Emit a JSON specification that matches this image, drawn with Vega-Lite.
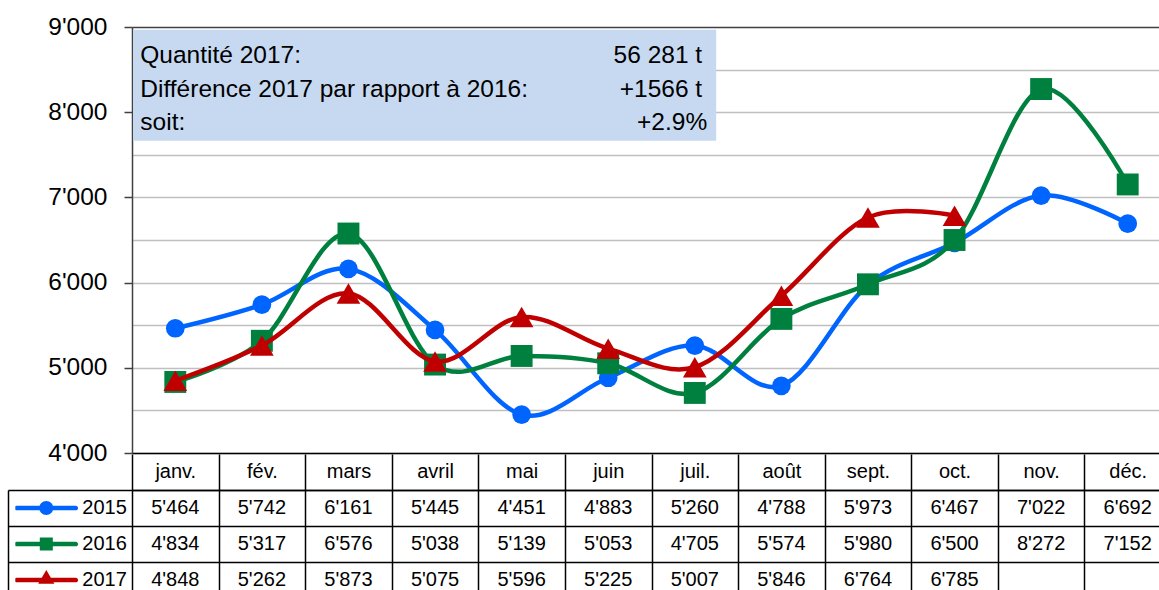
{
  "$schema": "https://vega.github.io/schema/vega-lite/v6.json",
  "padding": {"left": 7, "top": 14, "right": 0, "bottom": 0},
  "background": "white",
  "bounds": "flush",
  "spacing": 37,
  "config": {
    "view": {"stroke": null},
    "locale": {"number": {"decimal": ".", "thousands": "'", "grouping": [3], "currency": ["", ""]}},
    "font": "Liberation Sans",
    "axis": {"labelFont": "Liberation Sans", "labelColor": "#000000"},
    "legend": {"labelFont": "Liberation Sans"},
    "text": {"font": "Liberation Sans"}
  },
  "datasets": {
    "sales": [
      {"month": "janv.", "m": 1, "year": "2015", "value": 5464},
      {"month": "fév.", "m": 2, "year": "2015", "value": 5742},
      {"month": "mars", "m": 3, "year": "2015", "value": 6161},
      {"month": "avril", "m": 4, "year": "2015", "value": 5445},
      {"month": "mai", "m": 5, "year": "2015", "value": 4451},
      {"month": "juin", "m": 6, "year": "2015", "value": 4883},
      {"month": "juil.", "m": 7, "year": "2015", "value": 5260},
      {"month": "août", "m": 8, "year": "2015", "value": 4788},
      {"month": "sept.", "m": 9, "year": "2015", "value": 5973},
      {"month": "oct.", "m": 10, "year": "2015", "value": 6467},
      {"month": "nov.", "m": 11, "year": "2015", "value": 7022},
      {"month": "déc.", "m": 12, "year": "2015", "value": 6692},
      {"month": "janv.", "m": 1, "year": "2016", "value": 4834},
      {"month": "fév.", "m": 2, "year": "2016", "value": 5317},
      {"month": "mars", "m": 3, "year": "2016", "value": 6576},
      {"month": "avril", "m": 4, "year": "2016", "value": 5038},
      {"month": "mai", "m": 5, "year": "2016", "value": 5139},
      {"month": "juin", "m": 6, "year": "2016", "value": 5053},
      {"month": "juil.", "m": 7, "year": "2016", "value": 4705},
      {"month": "août", "m": 8, "year": "2016", "value": 5574},
      {"month": "sept.", "m": 9, "year": "2016", "value": 5980},
      {"month": "oct.", "m": 10, "year": "2016", "value": 6500},
      {"month": "nov.", "m": 11, "year": "2016", "value": 8272},
      {"month": "déc.", "m": 12, "year": "2016", "value": 7152},
      {"month": "janv.", "m": 1, "year": "2017", "value": 4848},
      {"month": "fév.", "m": 2, "year": "2017", "value": 5262},
      {"month": "mars", "m": 3, "year": "2017", "value": 5873},
      {"month": "avril", "m": 4, "year": "2017", "value": 5075},
      {"month": "mai", "m": 5, "year": "2017", "value": 5596},
      {"month": "juin", "m": 6, "year": "2017", "value": 5225},
      {"month": "juil.", "m": 7, "year": "2017", "value": 5007},
      {"month": "août", "m": 8, "year": "2017", "value": 5846},
      {"month": "sept.", "m": 9, "year": "2017", "value": 6764},
      {"month": "oct.", "m": 10, "year": "2017", "value": 6785}
    ],
    "note": [
      {"label": "Quantité 2017:", "value": "56 281 t", "lx": 0.596, "rx": 7.085, "y": 8657},
      {"label": "Différence 2017 par rapport à 2016:", "value": "+1566 t", "lx": 0.596, "rx": 7.085, "y": 8256},
      {"label": "soit:", "value": "+2.9%", "lx": 0.596, "rx": 7.143, "y": 7869}
    ]
  },
  "resolve": {"scale": {"x": "independent", "y": "independent", "color": "independent", "shape": "independent"}},
  "vconcat": [
    {
      "width": 1039,
      "height": 426,
      "data": {"name": "sales"},
      "layer": [
        {
          "data": {"values": [{}]},
          "mark": {"type": "rect", "color": "#C6D9F1"},
          "encoding": {
            "x": {
              "datum": 0.5115, "type": "quantitative",
              "scale": {"domain": [0.5, 12.5], "nice": false, "zero": false},
              "axis": {"orient": "bottom", "title": null, "labels": false, "ticks": false, "grid": false, "domain": true, "domainColor": "#000000", "domainWidth": 1.5}
            },
            "x2": {"datum": 7.247},
            "y": {
              "datum": 8969, "type": "quantitative",
              "scale": {"domain": [4000, 9000], "nice": false, "zero": false},
              "axis": {
                "title": null,
                "values": [4000, 4500, 5000, 5500, 6000, 6500, 7000, 7500, 8000, 8500, 9000],
                "format": ",d",
                "labelExpr": "datum.value % 1000 === 0 ? datum.label : ''",
                "labelFontSize": 24.5,
                "labelPadding": 17,
                "tickSize": 8,
                "tickWidth": 1.5,
                "tickColor": {"condition": {"test": "datum.value % 1000 !== 0", "value": "transparent"}, "value": "#404040"},
                "domainColor": "#404040",
                "domainWidth": 1.5,
                "grid": true,
                "gridWidth": 1.5,
                "gridColor": {"condition": {"test": "datum.value === 9000", "value": "#404040"}, "value": "#C0C0C0"}
              }
            },
            "y2": {"datum": 7664}
          }
        },
        {
          "data": {"name": "note"},
          "mark": {"type": "text", "align": "left", "baseline": "middle", "fontSize": 24.5, "color": "#000000"},
          "encoding": {
            "x": {"field": "lx", "type": "quantitative"},
            "y": {"field": "y", "type": "quantitative"},
            "text": {"field": "label"}
          }
        },
        {
          "data": {"name": "note"},
          "mark": {"type": "text", "align": "right", "baseline": "middle", "fontSize": 24.5, "color": "#000000"},
          "encoding": {
            "x": {"field": "rx", "type": "quantitative"},
            "y": {"field": "y", "type": "quantitative"},
            "text": {"field": "value"}
          }
        },
        {
          "transform": [{"filter": "datum.year === '2015'"}],
          "mark": {"type": "line", "color": "#0064FF", "strokeWidth": 4.5, "strokeCap": "round", "strokeJoin": "round", "interpolate": "cardinal",
                   "point": {"filled": true, "shape": "circle", "size": 350, "color": "#0064FF", "opacity": 1}},
          "encoding": {
            "x": {"field": "m", "type": "quantitative"},
            "y": {"field": "value", "type": "quantitative"}
          }
        },
        {
          "transform": [{"filter": "datum.year === '2016'"}],
          "mark": {"type": "line", "color": "#00803E", "strokeWidth": 4.5, "strokeCap": "round", "strokeJoin": "round", "interpolate": "cardinal",
                   "point": {"filled": true, "shape": "square", "size": 480, "color": "#00803E", "opacity": 1}},
          "encoding": {
            "x": {"field": "m", "type": "quantitative"},
            "y": {"field": "value", "type": "quantitative"}
          }
        },
        {
          "transform": [{"filter": "datum.year === '2017'"}],
          "mark": {"type": "line", "color": "#C00000", "strokeWidth": 4.5, "strokeCap": "round", "strokeJoin": "round", "interpolate": "cardinal",
                   "point": {"filled": true, "shape": "triangle-up", "size": 560, "color": "#C00000", "opacity": 1}},
          "encoding": {
            "x": {"field": "m", "type": "quantitative"},
            "y": {"field": "value", "type": "quantitative"}
          }
        }
      ]
    },
    {
      "width": 1039,
      "height": 108,
      "data": {"name": "sales"},
      "layer": [
        {
          "mark": {"type": "text", "fontSize": 20, "color": "#000000"},
          "encoding": {
            "x": {
              "field": "month", "type": "nominal",
              "sort": ["janv.", "fév.", "mars", "avril", "mai", "juin", "juil.", "août", "sept.", "oct.", "nov.", "déc."],
              "scale": {"type": "band", "paddingInner": 0, "paddingOuter": 0},
              "axis": {
                "orient": "top", "title": null, "labelAngle": 0, "labelFontSize": 20, "labelBaseline": "middle",
                "labelPadding": -17, "tickBand": "extent", "ticks": true, "tickSize": 36, "tickColor": "#000000", "tickWidth": 1.5,
                "grid": true, "gridColor": "#000000", "gridWidth": 1.5, "domain": true, "domainColor": "#000000", "domainWidth": 1.5
              }
            },
            "y": {
              "field": "year", "type": "nominal",
              "scale": {"type": "band", "paddingInner": 0, "paddingOuter": 0},
              "axis": {
                "orient": "left", "title": null, "offset": 124, "labels": false, "tickBand": "extent", "ticks": true,
                "tickSize": -124, "tickColor": "#000000", "tickWidth": 1.5, "grid": true, "gridColor": "#000000", "gridWidth": 1.5,
                "domain": true, "domainColor": "#000000", "domainWidth": 1.5
              }
            },
            "text": {"field": "value", "type": "quantitative", "format": ",d"}
          }
        },
        {
          "mark": {"type": "point", "filled": true, "opacity": 0},
          "encoding": {
            "y": {"field": "year", "type": "nominal"},
            "color": {
              "field": "year", "type": "nominal",
              "scale": {"domain": ["2015", "2016", "2017"], "range": ["#0064FF", "#00803E", "#C00000"]},
              "legend": {"orient": "none", "legendX": -116.7, "legendY": 0, "title": null, "padding": 0, "rowPadding": 0, "clipHeight": 36,
                         "symbolSize": 3844, "symbolStrokeWidth": 0, "symbolOpacity": 1, "labelFontSize": 20, "labelColor": "#000000",
                         "labelOffset": 5, "direction": "vertical"}
            },
            "shape": {
              "field": "year", "type": "nominal",
              "scale": {"domain": ["2015", "2016", "2017"], "range": [
                "M-0.95,-0.075L0.95,-0.075A0.075,0.075 0 0,1 0.95,0.075L-0.95,0.075A0.075,0.075 0 0,1 -0.95,-0.075Z M-0.226,0A0.226,0.226 0 1,1 0.226,0A0.226,0.226 0 1,1 -0.226,0Z",
                "M-0.95,-0.075L0.95,-0.075A0.075,0.075 0 0,1 0.95,0.075L-0.95,0.075A0.075,0.075 0 0,1 -0.95,-0.075Z M-0.21,-0.21L0.21,-0.21L0.21,0.21L-0.21,0.21Z",
                "M-0.95,-0.075L0.95,-0.075A0.075,0.075 0 0,1 0.95,0.075L-0.95,0.075A0.075,0.075 0 0,1 -0.95,-0.075Z M0,-0.32L0.26,0.12L-0.26,0.12Z"
              ]},
              "legend": {"orient": "none", "legendX": -116.7, "legendY": 0, "title": null, "padding": 0, "rowPadding": 0, "clipHeight": 36,
                         "symbolSize": 3844, "symbolStrokeWidth": 0, "symbolOpacity": 1, "labelFontSize": 20, "labelColor": "#000000",
                         "labelOffset": 5, "direction": "vertical"}
            }
          }
        }
      ]
    }
  ]
}
